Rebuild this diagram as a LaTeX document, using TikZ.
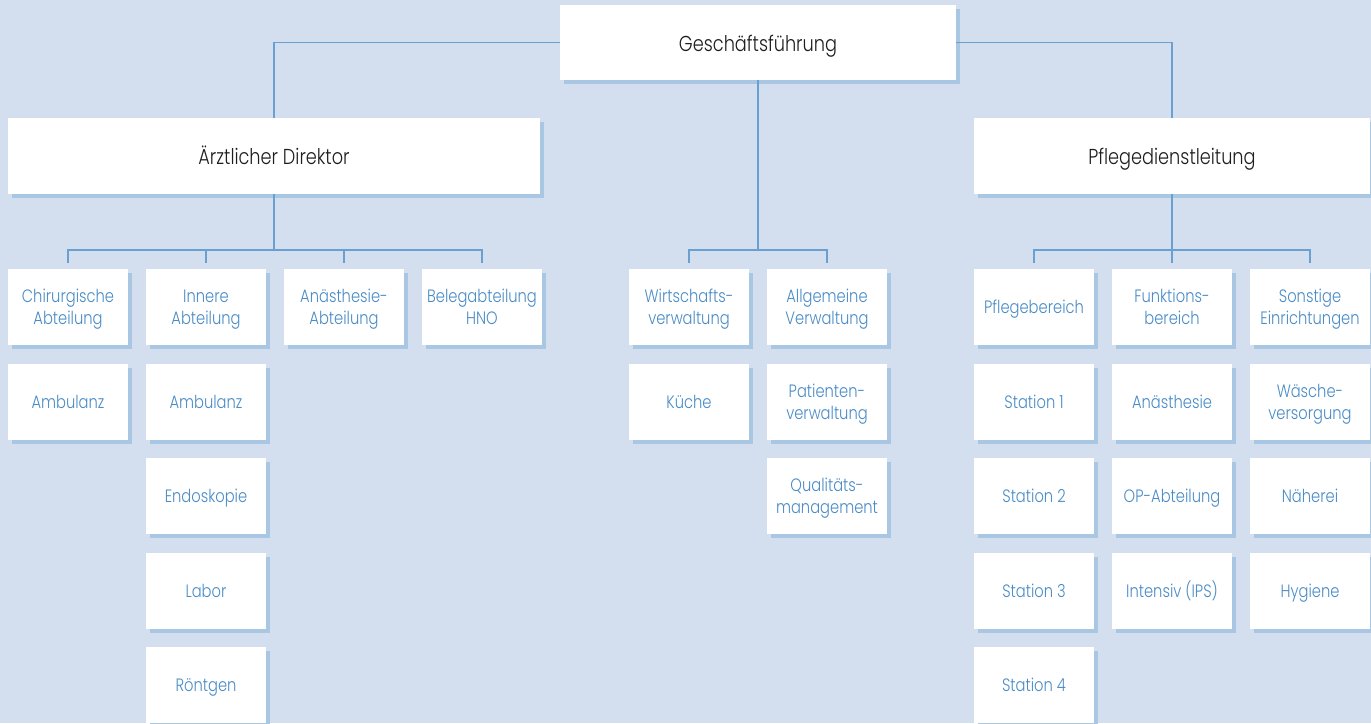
\documentclass[tikz,border=0pt]{standalone}
\usepackage{fontspec}
\setmainfont{Poppins}[UprightFont=* Light,FakeStretch=0.82]
\usepackage{tikz}
\usetikzlibrary{positioning,shadows}
\definecolor{obg}{HTML}{D3DFEE}
\definecolor{oline}{HTML}{6A9FD2}
\definecolor{oshadow}{HTML}{A9C6E3}
\definecolor{otext}{HTML}{4A8CC6}
\definecolor{ohead}{HTML}{1E1E1E}

\begin{document}
\begin{tikzpicture}[x=0.02cm,y=-0.02cm,
  every node/.style={font=\fontsize{10.2}{12.3}\selectfont},
  box/.style={fill=white,align=center,inner sep=0pt,minimum width=2.4cm,minimum height=1.52cm,text=otext,
    drop shadow={shadow xshift=0.08cm,shadow yshift=-0.08cm,fill=oshadow,opacity=1}},
  solo/.style={text height=0.72em,text depth=0pt},
  pair/.style={text height=2em,text depth=0pt},
  head/.style={box,text=ohead,font=\fontsize{12.3}{14}\selectfont,text height=1em,text depth=0pt},
  link/.style={draw=oline,line width=0.8pt}]
  \useasboundingbox (0,0) rectangle (1371,723);
  \fill[obg] (0,0) rectangle (1371,723);

  % management level
  \node[head,minimum width=7.92cm,minimum height=1.5cm] (gf) at (758,42.5) {Geschäftsführung};
  \node[head,minimum width=10.64cm] (arzt) at (274,156) {Ärztlicher Direktor};
  \node[head,minimum width=7.94cm] (pflege) at (1172,156) {Pflegedienstleitung};

  % medical departments
  \node[box,pair] (chir) at (68,307) {Chirurgische\\Abteilung};
  \node[box,solo] (chir2) at (68,402) {Ambulanz};
  \node[box,pair] (inner) at (206,307) {Innere\\Abteilung};
  \node[box,solo] (inner2) at (206,402) {Ambulanz};
  \node[box,solo] (inner3) at (206,496) {Endoskopie};
  \node[box,solo] (inner4) at (206,591) {Labor};
  \node[box,solo] (inner5) at (206,685) {Röntgen};
  \node[box,pair] (anae) at (344,307) {Anästhesie-\\Abteilung};
  \node[box,pair] (beleg) at (482,307) {Belegabteilung\\HNO};

  % administration
  \node[box,pair] (wirt) at (689,307) {Wirtschafts-\\verwaltung};
  \node[box,solo] (wirt2) at (689,402) {Küche};
  \node[box,pair] (allg) at (827,307) {Allgemeine\\Verwaltung};
  \node[box,pair] (allg2) at (827,402) {Patienten-\\verwaltung};
  \node[box,pair] (allg3) at (827,496) {Qualitäts-\\management};

  % nursing
  \node[box,solo] (pfb) at (1034,307) {Pflegebereich};
  \node[box,solo] (pfb2) at (1034,402) {Station 1};
  \node[box,solo] (pfb3) at (1034,496) {Station 2};
  \node[box,solo] (pfb4) at (1034,591) {Station 3};
  \node[box,solo] (pfb5) at (1034,685) {Station 4};
  \node[box,pair] (fkt) at (1172,307) {Funktions-\\bereich};
  \node[box,solo] (fkt2) at (1172,402) {Anästhesie};
  \node[box,solo] (fkt3) at (1172,496) {OP-Abteilung};
  \node[box,solo] (fkt4) at (1172,591) {Intensiv (IPS)};
  \node[box,pair] (sonst) at (1310,307) {Sonstige\\Einrichtungen};
  \node[box,pair] (sonst2) at (1310,402) {Wäsche-\\versorgung};
  \node[box,solo] (sonst3) at (1310,496) {Näherei};
  \node[box,solo] (sonst4) at (1310,591) {Hygiene};

  % connectors
  \draw[link] (gf.west) -| (arzt.north);
  \draw[link] (gf.east) -| (pflege.north);
  \coordinate (busA) at (274,250);
  \coordinate (busV) at (758,250);
  \coordinate (busP) at (1172,250);
  \draw[link] (arzt.south) -- (busA);
  \draw[link] (gf.south) -- (busV);
  \draw[link] (pflege.south) -- (busP);
  \foreach \n in {chir,inner,anae,beleg}
    \draw[link] (busA) -| ([yshift=0.12cm]\n.north);
  \foreach \n in {wirt,allg}
    \draw[link] (busV) -| ([yshift=0.12cm]\n.north);
  \foreach \n in {pfb,fkt,sonst}
    \draw[link] (busP) -| ([yshift=0.12cm]\n.north);
\end{tikzpicture}
\end{document}
